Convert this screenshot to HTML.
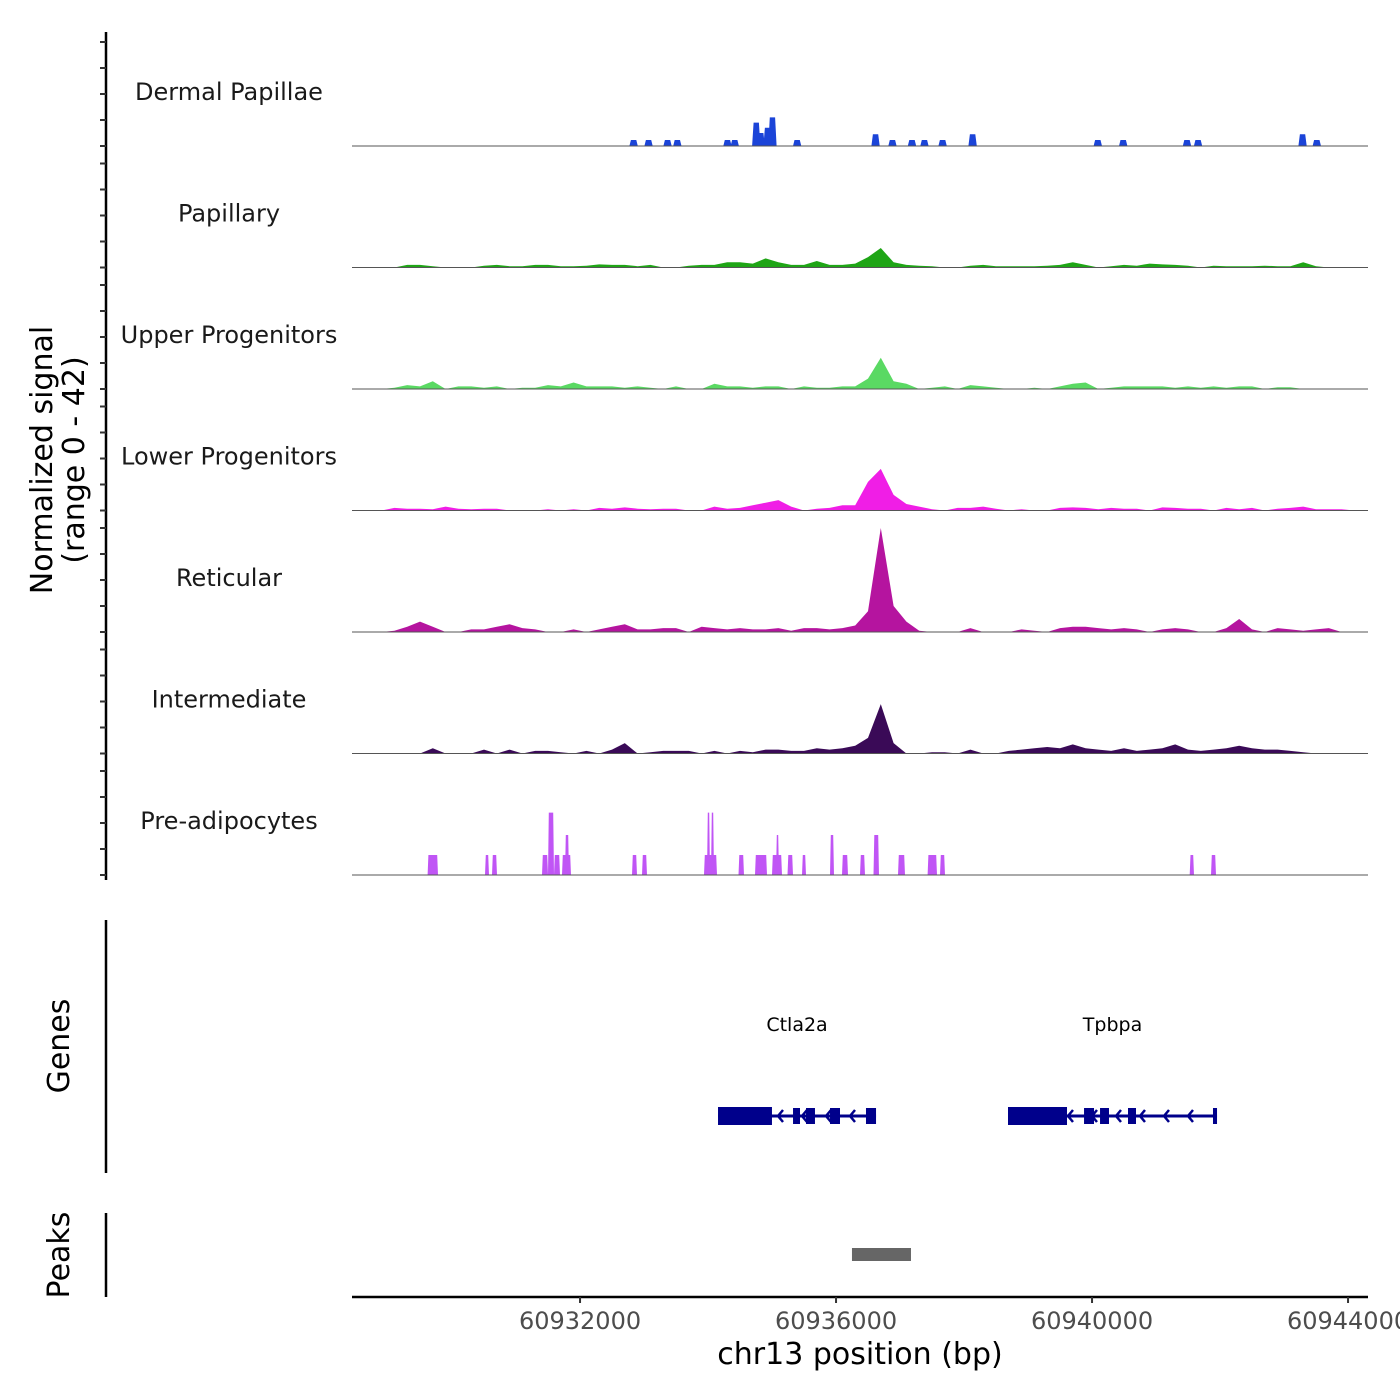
<!DOCTYPE html>
<html><head><meta charset="utf-8"><style>
html,body{margin:0;padding:0;background:#fff}
svg{display:block;font-family:"DejaVu Sans","Liberation Sans",sans-serif}
</style></head><body>
<svg id="chart" width="1400" height="1400" viewBox="0 0 1400 1400" xmlns="http://www.w3.org/2000/svg"></svg>
<script>
// ---- data ----
const trackNames = ["Dermal Papillae","Papillary","Upper Progenitors","Lower Progenitors","Reticular","Intermediate","Pre-adipocytes"];
const trackColors = ["#1b44d8","#1fa516","#5ad963","#f01ee6","#b5149f","#3a0a57","#c055f5"];
const xTicks = [60932000,60936000,60940000,60944000];
const binStart = 60928400;
const binSize = 200;
// Dermal Papillae blocks: [centerBp, height]
const dpCenters = [60932837,60933071,60933367,60933520,60934304,60934417,60934753,60934823,60934930,60935007,60935393,60936617,60936881,60937187,60937381,60937665,60938134,60940090,60940487,60941484,60941656,60943289,60943512];
const dpHeights = [2.3,2.3,2.3,2.3,2.3,2.3,9,5,7,11,2.3,4.5,2.3,2.3,2.3,2.3,4.5,2.3,2.3,2.3,2.3,4.5,2.3];
const papillary = [0,0,0,0,1,1,0.5,0,0,0,0.7,1,0.5,0.5,1,1,0.5,0.5,0.7,1.2,1,1,0.5,1,0,0,0.7,1,1,2,2,1.5,3.5,2,1,1,2.5,1,1,1.5,4,7.5,2,1,0.7,0.5,0,0,0.7,1,0.5,0.5,0.5,0.5,0.7,1,2,1,0,0.5,1,0.7,1.5,1.2,1,0.7,0,0.7,0.5,0.5,0.5,0.7,0.5,0.5,2,0.5,0,0,0,0];
const upperProg = [0,0,0,0.5,1.5,1,3,0,1,1,0.5,1,0,0.5,0.5,1.5,1,2.5,1,1,1,0.5,1,0.5,0,1,0,0,2,1,1,0.5,1,1,0,1,0.5,0.5,1,1,4,12,3,2,0,0.5,1,0,1.5,1,0.5,0,0,0.5,0,1,2,2.5,0,0.5,1,1,1,1,0.5,1,0.5,1,0.5,1,1,0,0.7,0.7,0,0,0,0,0,0];
const lowerProg = [0,0,0,1,0.7,0.7,0.5,1.5,0.7,0.5,0.7,0.7,0,0,0,0.5,0,0.5,0,1,0.7,1.2,0.7,0.5,0.7,0.7,0,0,1.5,0.7,1,2,3,4,1.5,0,0.7,1,2,2,11,16,6,2.5,1.5,0.5,0,1,1,1.5,0.7,0,0.5,0,0,1,1.2,1,0.5,1,0.7,0.7,0,1.2,1,0.7,0.7,0,1,0.5,1,0,0.7,1,1.5,0.5,0.5,0.5,0,0];
const reticular = [0,0,0,0.5,2,4,2,0,0,1,1,2,3,1.5,1,0,0,1,0,1,2,3,1,1,1.5,1.5,0,2,1.5,1,1.5,1,1,1.5,0.5,1.5,1.5,1,1.5,2.5,8,40,10,4,0.5,0,0,0,1.5,0,0,0,1,0.5,0,1.5,2,2,1.5,1,1.5,1,0,1,1.5,1,0,0,1.5,5,1,0,1.5,1,0.5,1,1.5,0,0,0];
const intermediate = [0,0,0,0,0,0,2,0,0,0,1.5,0,1.5,0,1,1,0.5,0,1,0,1.5,4,0,0.5,1,1,1,0,1,0,1,0.5,1.5,1.5,1,1,2,1.5,2,3,6,19,4,0,0,0.5,0.5,0,1.5,0,0,1,1.5,2,2.5,2,3.5,2,1.5,1,2,1,1.5,2,3.5,1.5,1,1.5,2,3,2,1.5,1.5,1,0.5,0,0,0,0,0];
// Pre-adipocyte blocks
const preStart = [60929618,60930515,60930625,60931406,60931500,60931594,60931718,60931765,60932812,60932968,60933937,60933984,60934046,60934476,60934734,60934999,60935062,60935242,60935468,60935906,60936093,60936375,60936585,60936968,60937431,60937625,60941526,60941859];
const preEnd   = [60929781,60930578,60930703,60931500,60931594,60931687,60931859,60931828,60932890,60933046,60934140,60934031,60934093,60934562,60934921,60935156,60935109,60935328,60935531,60935968,60936187,60936453,60936671,60937078,60937578,60937703,60941593,60941937];
const preHeight= [7.7,7.7,7.7,7.7,24,7.7,7.7,15.4,7.7,7.7,7.7,24,24,7.7,7.7,7.7,15.4,7.7,7.7,15.4,7.7,7.7,15.4,7.7,7.7,7.7,7.7,7.7];
// genes
const geneNames = ["Ctla2a","Tpbpa"];
const geneStart = [60934156,60938687];
const geneEnd = [60936625,60941953];
const exonStarts = [[60934156,60935328,60935531,60935906,60936468],[60938687,60939875,60940125,60940562,60941890]];
const exonEnds   = [[60934999,60935437,60935671,60936062,60936625],[60939609,60940031,60940265,60940687,60941953]];
const peakStart = [60936249];
const peakEnd = [60937171];

// ---- scales ----
const X0=352, X1=1368, BP0=60928437, BP1=60944312;
const xs = bp => Math.max(X0, Math.min(X1, X0 + (bp-BP0)/(BP1-BP0)*(X1-X0)));
const TOP=32, TH=121.5, YMAX=42, YPX=109.2;
const base = k => TOP + TH*k + 114;
const ys = (k,v) => base(k) - v/YMAX*YPX;

const svg=document.getElementById('chart');
const NS="http://www.w3.org/2000/svg";
function mk(tag,attrs,parent){const e=document.createElementNS(NS,tag);for(const a in attrs)e.setAttribute(a,attrs[a]);(parent||svg).appendChild(e);return e;}

// tracks
const binTracks=[null,papillary,upperProg,lowerProg,reticular,intermediate,null];
for(let k=0;k<7;k++){
  const g=mk('g',{});
  
  
  const B=base(k);
  const lab=mk('text',{x:229,y:B-46,'text-anchor':'middle','font-size':24,fill:'#1a1a1a'},g);
  lab.textContent=trackNames[k];
  
  
  let d='';
  if(binTracks[k]){
    const arr=binTracks[k];
    d='M'+xs(binStart)+','+B;
    for(let i=0;i<arr.length;i++){
      const c=xs(binStart+binSize*(i+0.5));
      d+=' L'+c.toFixed(1)+','+ys(k,arr[i]).toFixed(1);
    }
    d+=' L'+xs(binStart+binSize*arr.length)+','+B+' Z';
  } else if(k===0){
    for(let i=0;i<dpCenters.length;i++){
      const a=xs(dpCenters[i]-65),b=xs(dpCenters[i]+65),y=ys(k,dpHeights[i]);
      d+='M'+a.toFixed(1)+','+B+' L'+(a+1.5).toFixed(1)+','+y.toFixed(1)+' L'+(b-1.5).toFixed(1)+','+y.toFixed(1)+' L'+b.toFixed(1)+','+B+' Z ';
    }
  } else {
    for(let i=0;i<preStart.length;i++){
      const a=xs(preStart[i]),b=xs(preEnd[i]),y=ys(k,preHeight[i]);
      d+='M'+a.toFixed(1)+','+B+' L'+(a+0.8).toFixed(1)+','+y.toFixed(1)+' L'+(b-0.8).toFixed(1)+','+y.toFixed(1)+' L'+b.toFixed(1)+','+B+' Z ';
    }
  }
  const p=mk('path',{d:d,fill:trackColors[k],stroke:'none'},g);
  
  
  const bl=mk('line',{x1:X0,x2:X1,y1:B,y2:B,stroke:'#555','stroke-width':1},g);
  
  
}

// left axis
const ax=mk('g',{});


mk('line',{x1:106,x2:106,y1:TOP,y2:880,stroke:'#000','stroke-width':2.5},ax);
for(let k=0;k<7;k++){
  for(let t=0;t<=40;t+=10){
    const y=ys(k,t);
    mk('line',{x1:100,x2:106,y1:y,y2:y,stroke:'#333','stroke-width':2},ax);
  }
}
const yt=mk('text',{transform:'translate(52,460) rotate(-90)','text-anchor':'middle','font-size':30,fill:'#000'});


yt.innerHTML='<tspan x="0" dy="0">Normalized signal</tspan><tspan x="0" dy="32">(range 0 - 42)</tspan>';

// genes panel
mk('line',{x1:106,x2:106,y1:920,y2:1173,stroke:'#000','stroke-width':2.5});
const gt=mk('text',{transform:'translate(69,1046) rotate(-90)','text-anchor':'middle','font-size':30,fill:'#000'});
gt.textContent='Genes';


for(let i=0;i<geneNames.length;i++){
  const g=mk('g',{});
  
  
  const a=xs(geneStart[i]),b=xs(geneEnd[i]);
  const t=mk('text',{x:(a+b)/2,y:1031,'text-anchor':'middle','font-size':19,fill:'#000'},g);
  t.textContent=geneNames[i];
  mk('line',{x1:a,x2:b,y1:1116,y2:1116,stroke:'#00008b','stroke-width':3},g);
  for(let j=0;j<exonStarts[i].length;j++){
    const ea=xs(exonStarts[i][j]),eb=xs(exonEnds[i][j]);
    const h=(j===0)?18:16;
    mk('rect',{x:ea,y:1116-h/2,width:Math.max(eb-ea,3),height:h,fill:'#00008b'},g);
  }
  for(let x=a+60;x<b-8;x+=24){
    mk('path',{d:'M'+(x+5)+',1110 L'+x+',1116 L'+(x+5)+',1122',fill:'none',stroke:'#00008b','stroke-width':2.5},g);
  }
}

// peaks panel
mk('line',{x1:106,x2:106,y1:1213,y2:1297,stroke:'#000','stroke-width':2.5});
const pt=mk('text',{transform:'translate(69,1255) rotate(-90)','text-anchor':'middle','font-size':30,fill:'#000'});
pt.textContent='Peaks';


for(let i=0;i<peakStart.length;i++){
  const r=mk('rect',{x:xs(peakStart[i]),y:1248,width:xs(peakEnd[i])-xs(peakStart[i]),height:13,fill:'#666'});
  
  
}

// x axis
const xa=mk('g',{});


mk('line',{x1:X0,x2:X1,y1:1297,y2:1297,stroke:'#000','stroke-width':2.5},xa);
for(const t of xTicks){
  const x=xs(t);
  mk('line',{x1:x,x2:x,y1:1297,y2:1303,stroke:'#333','stroke-width':2},xa);
  const l=mk('text',{x:x,y:1329,'text-anchor':'middle','font-size':24,fill:'#4d4d4d'},xa);
  l.textContent=String(t);
}
const xt=mk('text',{x:860,y:1364,'text-anchor':'middle','font-size':30,fill:'#000'});
xt.textContent='chr13 position (bp)';


</script>
</body></html>
